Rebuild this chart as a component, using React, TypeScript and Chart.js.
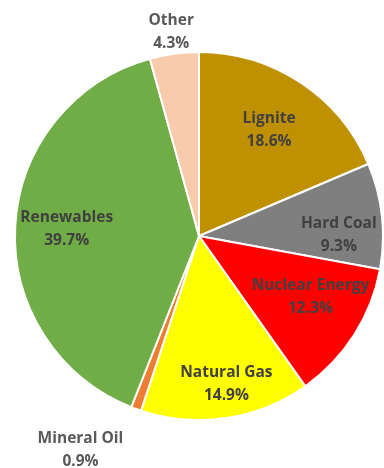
import React, { useEffect, useRef } from "react";
import { Chart, registerables } from "chart.js";

Chart.register(...registerables);

const categories = ["Lignite", "Hard Coal", "Nuclear Energy", "Natural Gas", "Mineral Oil", "Renewables", "Other"];
const shares = [18.6, 9.3, 12.3, 14.9, 0.9, 39.7, 4.3];
const sliceColors = ["#BF9000", "#7F7F7F", "#FF0000", "#FFFF00", "#ED7D31", "#70AD47", "#F8CBAD"];
const labelRadius = [0.69, 0.76, 0.69, 0.82, 1.33, 0.72, 1.12];
const labelAngleShift = [0, 6, -4, -2, 9, 0, 0];
const labelColors = ["#404040", "#404040", "#404040", "#404040", "#595959", "#404040", "#595959"];

const labelPlugin = {
  id: "sliceLabels",
  afterDatasetsDraw(chart: any) {
    const ctx = chart.ctx;
    const meta = chart.getDatasetMeta(0);
    ctx.save();
    ctx.font = "bold 15.5px 'Open Sans'";
    ctx.textAlign = "center";
    ctx.textBaseline = "middle";
    meta.data.forEach((arc: any, i: number) => {
      const p = arc.getProps(["x", "y", "startAngle", "endAngle", "outerRadius"], true);
      const mid = (p.startAngle + p.endAngle) / 2 + (labelAngleShift[i] * Math.PI) / 180;
      const r = p.outerRadius * labelRadius[i];
      const cx = p.x + Math.cos(mid) * r;
      const cy = p.y + Math.sin(mid) * r;
      ctx.fillStyle = labelColors[i];
      ctx.fillText(categories[i], cx, cy - 11.5);
      ctx.fillText(shares[i].toFixed(1) + "%", cx, cy + 11.5);
    });
    ctx.restore();
  },
};

export default function App() {
  const ref = useRef<HTMLCanvasElement>(null);
  useEffect(() => {
    if (!ref.current) return;
    const chart = new Chart(ref.current, {
      type: "pie",
      data: {
        labels: categories,
        datasets: [
          {
            data: shares,
            backgroundColor: sliceColors,
            borderColor: "#FFFFFF",
            borderWidth: 2,
          },
        ],
      },
      options: {
        responsive: false,
        animation: false,
        layout: { padding: { left: 14, right: 0, top: 51, bottom: 47 } },
        plugins: { legend: { display: false }, tooltip: { enabled: false } },
      },
      plugins: [labelPlugin],
    });
    return () => chart.destroy();
  }, []);
  return (
    <div style={{ position: "absolute", left: 0, top: 0, width: 384, height: 468, background: "#FFFFFF", overflow: "hidden" }}>
      <canvas ref={ref} width={384} height={468} />
    </div>
  );
}
